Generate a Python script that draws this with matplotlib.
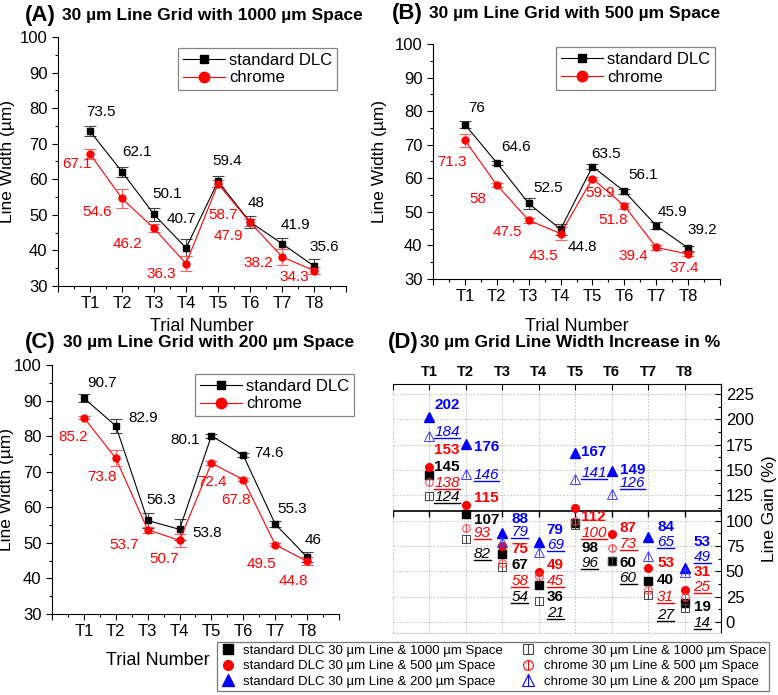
import numpy as np
import matplotlib
matplotlib.use("Agg")
import matplotlib.pyplot as plt
from matplotlib.lines import Line2D
from matplotlib.legend_handler import HandlerTuple
from matplotlib.ticker import MultipleLocator

plt.rcParams['font.family'] = ['Liberation Sans', 'DejaVu Sans']

trials = ["T1", "T2", "T3", "T4", "T5", "T6", "T7", "T8"]

# line width (um), 30 um line with 1000 um space
a_dlc = [73.5, 62.1, 50.1, 40.7, 59.4, 48, 41.9, 35.6]
a_dlc_err = [1.45, 1.45, 1.8, 2.4, 1.5, 1.7, 1.6, 2.1]
a_cr = [67.1, 54.6, 46.2, 36.3, 58.7, 47.9, 38.2, 34.3]
a_cr_err = [1.4, 2.7, 1.1, 2.2, 1.0, 1.0, 2.3, 0.9]

# 500 um space
b_dlc = [76, 64.6, 52.5, 44.8, 63.5, 56.1, 45.9, 39.2]
b_dlc_err = [1.0, 0.65, 1.6, 1.7, 0.7, 0.8, 1.1, 0.75]
b_cr = [71.3, 58, 47.5, 43.5, 59.9, 51.8, 39.4, 37.4]
b_cr_err = [2.0, 0.7, 0.7, 2.0, 0.5, 0.9, 0.7, 0.5]

# 200 um space
c_dlc = [90.7, 82.9, 56.3, 53.8, 80.1, 74.6, 55.3, 46]
c_dlc_err = [1.2, 1.9, 2.0, 2.9, 0.55, 0.55, 0.9, 1.35]
c_cr = [85.2, 73.8, 53.7, 50.7, 72.4, 67.8, 49.5, 44.8]
c_cr_err = [0.5, 2.25, 0.85, 1.9, 0.5, 0.5, 0.5, 1.1]

# line gain (%)
gain_dlc_1000 = [145, 107, 67, 36, 98, 60, 40, 19]
gain_cr_1000 = [124, 82, 54, 21, 96, 60, 27, 14]
gain_dlc_500 = [153, 115, 75, 49, 112, 87, 53, 31]
gain_cr_500 = [138, 93, 58, 45, 100, 73, 31, 25]
gain_dlc_200 = [202, 176, 88, 79, 167, 149, 84, 53]
gain_cr_200 = [184, 146, 79, 69, 141, 126, 65, 49]

# label offsets in pixels (dx, dy with dy pointing down)
a_dlc_off = [(11, -19), (15, -20), (13, -20), (-5, -29), (9, -20), (6, -19), (13, -19), (10, -19)]
a_cr_off = [(-13, 10), (-25, 14), (-27, 16), (-25, 10), (5, 31), (-22, 14), (-24, 6), (-20, 6)]
b_dlc_off = [(12, -17), (19, -16), (19, -15), (22, 18), (14, -13), (19, -16), (16, -14), (14, -18)]
b_cr_off = [(-13, 22), (-19, 14), (-21, 12), (-17, 22), (8, 14), (-11, 14), (-23, 9), (-4, 14)]
c_dlc_off = [(18, -15), (27, -8), (14, -20), (28, 4), (-26, 4), (26, -2), (17, -15), (6, -17)]
c_cr_off = [(-11, 19), (-14, 19), (-24, 15), (-15, 19), (1, 19), (-7, 20), (-14, 19), (-14, 20)]

# panel D label shifts (data units) and per-trial x offset (pixels)
d_dy = {
    "dlc_1000": [8, -6, -11, -11, -25, -2, 1.5, -4],
    "cr_1000": [-1, -15, -29, -12, -38, -17, -20, -15],
    "dlc_500": [17, 7, -3, 7, -8, 6, 5, 18],
    "cr_500": [-1, -5, -17.5, -4.5, -12, 4, -6, 9.5],
    "dlc_200": [12, -3, 14, 12, 1, 1, 10, 26],
    "cr_200": [3.5, -1, 10, 7, 6, 11, 14, 15],
}
d_dx = [5, 8, 9, 8, 6, 8, 9, 9]

fig = plt.figure(figsize=(7.78, 6.95), dpi=100)
x = np.arange(1, 9)


def line_panel(rect, dlc, dlc_err, cr, cr_err, dlc_off, cr_off, leg_xy, ylab_x, xlab_xy):
    ax = fig.add_axes(rect)
    ax.errorbar(x, dlc, yerr=dlc_err, color="k", lw=0.8, marker="s", ms=4.5,
                capsize=4, elinewidth=0.8, capthick=0.8, ecolor="#444444")
    ax.errorbar(x, cr, yerr=cr_err, color="red", lw=0.8, marker="o", ms=5,
                capsize=4, elinewidth=0.8, capthick=0.8, ecolor="#ff6060")
    for xi, v, (dx, dy) in zip(x, dlc, dlc_off):
        ax.annotate(f"{v:g}", (xi, v), xytext=(dx, -dy), textcoords="offset pixels",
                    ha="center", va="center", fontsize=11, color="k")
    for xi, v, (dx, dy) in zip(x, cr, cr_off):
        ax.annotate(f"{v:g}", (xi, v), xytext=(dx, -dy), textcoords="offset pixels",
                    ha="center", va="center", fontsize=11, color="red")
    ax.set_xlim(0, 9)
    ax.set_ylim(30, 100)
    ax.set_xticks(range(0, 10), [""] + trials + [""])
    ax.xaxis.set_minor_locator(MultipleLocator(0.5))
    ax.set_yticks(range(30, 101, 10))
    ax.yaxis.set_minor_locator(MultipleLocator(5))
    ax.tick_params(which="major", length=4, width=0.8, labelsize=12)
    ax.tick_params(which="minor", length=2.5, width=0.8)
    ax.spines["top"].set_visible(False)
    ax.spines["right"].set_visible(False)
    ax.set_ylabel("Line Width (µm)", fontsize=12.5)
    ax.yaxis.set_label_coords(ylab_x, 0.5)
    ax.set_xlabel("Trial Number", fontsize=13)
    ax.xaxis.set_label_coords(*xlab_xy)
    handles = [Line2D([], [], color="k", lw=0.8, marker="s", ms=6),
               Line2D([], [], color="red", lw=0.8, marker="o", ms=7.5)]
    leg = ax.legend(handles, ["standard DLC", "chrome"], loc="upper right",
                    bbox_to_anchor=leg_xy, fontsize=12, frameon=True, fancybox=False,
                    edgecolor="#666666", labelspacing=0.15, borderpad=0.3,
                    handlelength=2.5, handletextpad=0.25, borderaxespad=0)
    leg.get_frame().set_linewidth(0.9)
    return ax


line_panel([0.0746, 0.5885, 0.3702, 0.3583], a_dlc, a_dlc_err, a_cr, a_cr_err,
           a_dlc_off, a_cr_off, (0.969, 0.956), -0.15, (0.5, -0.128))
line_panel([0.5566, 0.5986, 0.3689, 0.3381], b_dlc, b_dlc_err, b_cr, b_cr_err,
           b_dlc_off, b_cr_off, (0.983, 0.987), -0.16, (0.5, -0.166))
line_panel([0.0668, 0.1165, 0.3689, 0.3583], c_dlc, c_dlc_err, c_cr, c_cr_err,
           c_dlc_off, c_cr_off, (1.052, 0.964), -0.134, (0.37, -0.153))

# panel titles
titles = [
    (0.032, 0.978, "(A)", 0.0797, "30 µm Line Grid with 1000 µm Space"),
    (0.504, 0.981, "(B)", 0.551, "30 µm Line Grid with 500 µm Space"),
    (0.032, 0.5065, "(C)", 0.081, "30 µm Line Grid with 200 µm Space"),
    (0.499, 0.5065, "(D)", 0.540, "30 µm Grid Line Width Increase in %"),
]
for tx, ty, tag, rx, txt in titles:
    fig.text(tx, ty, tag, fontsize=16, fontweight="bold", ha="left", va="center")
    fig.text(rx, ty, txt, fontsize=12.5, fontweight="bold", ha="left", va="center")

# panel D
axd = fig.add_axes([0.5051, 0.0892, 0.4216, 0.3583])
axd.set_xlim(0, 9)
axd.set_ylim(-11, 235)
series = [
    ("dlc_1000", gain_dlc_1000, "k", "k", "s", True),
    ("cr_1000", gain_cr_1000, "#444444", "k", "s", False),
    ("dlc_500", gain_dlc_500, "red", "red", "o", True),
    ("cr_500", gain_cr_500, "#ff4040", "red", "o", False),
    ("dlc_200", gain_dlc_200, "blue", "blue", "^", True),
    ("cr_200", gain_cr_200, "#4040ff", "blue", "^", False),
]
underlined = []
for key, vals, col, tcol, mk, filled in series:
    ms = 5.5 if mk != "^" else 6.5
    if filled:
        axd.plot(x, vals, ls="none", marker=mk, ms=ms, color=col, zorder=4)
    else:
        axd.plot(x, vals, ls="none", marker=mk, ms=ms, mfc="none",
                 mec=col, mew=0.7, zorder=4)
        axd.plot(x, vals, ls="none", marker="|", ms=5.5, mec=col, mew=0.7, zorder=4)
    for i, v in enumerate(vals):
        t = axd.annotate(f"{v}", (x[i], v + d_dy[key][i]), xytext=(d_dx[i], 0),
                         textcoords="offset pixels", ha="left", va="center",
                         fontsize=11, color=tcol, zorder=5,
                         fontweight="bold" if filled else "normal",
                         fontstyle="normal" if filled else "italic")
        if not filled:
            underlined.append((t, tcol))

axd.axhline(110, color="k", lw=1.2, zorder=3)
axd.plot(np.arange(0, 10), [110] * 10, ls="none", marker=3, ms=4, mew=1, color="k", zorder=3)

axd.xaxis.tick_top()
axd.set_xticks(range(0, 10), [""] + trials + [""])
axd.tick_params(axis="x", which="major", direction="in", length=4, width=0.8,
                labelsize=10.5)
for lab in axd.get_xticklabels():
    lab.set_fontweight("bold")
axd.yaxis.tick_right()
axd.yaxis.set_label_position("right")
axd.set_yticks(range(0, 226, 25))
axd.yaxis.set_minor_locator(MultipleLocator(12.5))
axd.tick_params(axis="y", which="major", direction="in", length=4, width=0.8, labelsize=12)
axd.tick_params(axis="y", which="minor", direction="in", length=2.5, width=0.8)
axd.set_ylabel("Line Gain (%)", fontsize=12.5)
axd.yaxis.set_label_coords(1.126, 0.5)
axd.grid(True, which="major", ls=(0, (2, 2)), color="#bbbbbb", lw=0.6)
axd.set_axisbelow(True)
axd.spines["left"].set_visible(False)
axd.spines["bottom"].set_linestyle((0, (2, 2)))
axd.spines["bottom"].set_color("#bbbbbb")
axd.spines["bottom"].set_linewidth(0.6)


# legend for D
def hnd(col, mk, filled):
    ms = 7 if mk != "^" else 8
    if filled:
        return Line2D([], [], ls="none", marker=mk, ms=ms, color=col)
    return (Line2D([], [], ls="none", marker=mk, ms=ms, mfc="none", mec=col, mew=0.8),
            Line2D([], [], ls="none", marker="|", ms=ms, mec=col, mew=0.8))


leg_handles = [hnd("k", "s", True), hnd("red", "o", True), hnd("blue", "^", True),
               hnd("#444444", "s", False), hnd("red", "o", False), hnd("blue", "^", False)]
leg_labels = ["standard DLC 30 µm Line & 1000 µm Space",
              "standard DLC 30 µm Line & 500 µm Space",
              "standard DLC 30 µm Line & 200 µm Space",
              "chrome 30 µm Line & 1000 µm Space",
              "chrome 30 µm Line & 500 µm Space",
              "chrome 30 µm Line & 200 µm Space"]
legd = fig.legend(leg_handles, leg_labels, ncol=2, loc="upper left",
                  bbox_to_anchor=(217 / 778, 1 - 642 / 695), fontsize=9.5,
                  frameon=True, fancybox=False, edgecolor="#555555",
                  labelspacing=0.25, borderpad=0.2, handlelength=1.2,
                  handletextpad=0.6, columnspacing=1.3, borderaxespad=0,
                  handler_map={tuple: HandlerTuple(ndivide=1)})
legd.get_frame().set_linewidth(0.9)

# underline the chrome labels in panel D
fig.canvas.draw()
inv = fig.transFigure.inverted()
for t, tcol in underlined:
    bb = t.get_window_extent()
    (x0, y0), (x1, _) = inv.transform([(bb.x0, bb.y0 + 1), (bb.x1, bb.y0)])
    fig.add_artist(Line2D([x0, x1], [y0, y0], color=tcol, lw=1.0, zorder=6))

fig.savefig("out.png", dpi=100)
